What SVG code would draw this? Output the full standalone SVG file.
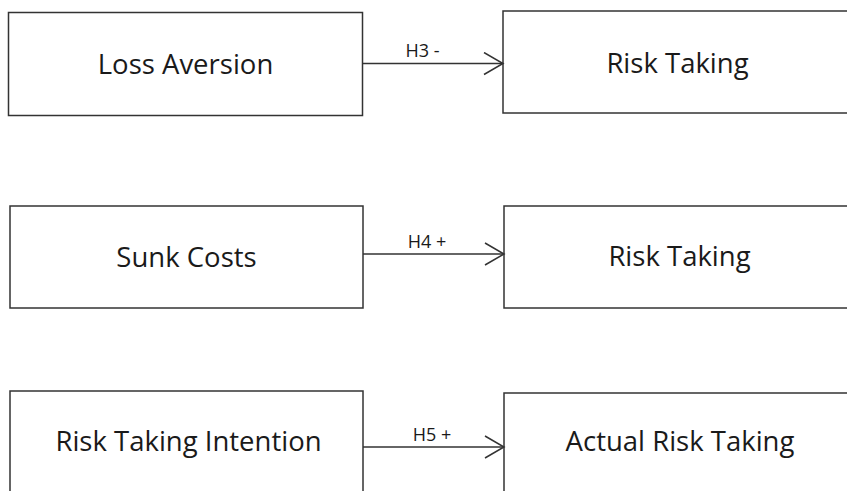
<svg xmlns="http://www.w3.org/2000/svg" width="847" height="491" viewBox="0 0 847 491">
<defs>
<style>
.box{fill:#fff;stroke:#333;stroke-width:1.5}
.lbl{font-family:"Open Sans","Liberation Sans",sans-serif;font-size:27.5px;fill:#1a1a1a;text-anchor:middle}
.hyp{font-family:"Open Sans","Liberation Sans",sans-serif;font-size:18px;fill:#1a1a1a;text-anchor:middle}
.edge{stroke:#333;stroke-width:1.5;fill:none}
</style>
<marker id="arr" markerUnits="userSpaceOnUse" markerWidth="24" markerHeight="26" refX="20" refY="12" orient="auto">
<path d="M1,1 L20,12 L1,23" fill="none" stroke="#333" stroke-width="1.5"/>
</marker>
</defs>
<rect width="847" height="491" fill="#fff"/>
<g id="loss-aversion">
<rect class="box" x="8.5" y="12.5" width="354" height="103"/>
<text class="lbl" x="185.5" y="74">Loss Aversion</text>
</g>
<g id="risk-taking-1">
<rect class="box" x="503" y="11" width="360" height="102"/>
<text class="lbl" x="677.5" y="73">Risk Taking</text>
</g>
<g id="sunk-costs">
<rect class="box" x="10" y="206" width="353" height="102"/>
<text class="lbl" x="186.5" y="267">Sunk Costs</text>
</g>
<g id="risk-taking-2">
<rect class="box" x="504" y="206" width="360" height="102"/>
<text class="lbl" x="679.5" y="266">Risk Taking</text>
</g>
<g id="risk-taking-intention">
<rect class="box" x="10" y="391" width="353" height="120"/>
<text class="lbl" x="188.5" y="451">Risk Taking Intention</text>
</g>
<g id="actual-risk-taking">
<rect class="box" x="504" y="393" width="360" height="120"/>
<text class="lbl" x="680" y="451">Actual Risk Taking</text>
</g>
<g id="connectors">
<line class="edge" x1="362.5" y1="63.5" x2="503" y2="63.5" marker-end="url(#arr)"/>
<text class="hyp" x="422.5" y="57">H3 -</text>
<line class="edge" x1="363" y1="254" x2="504" y2="254" marker-end="url(#arr)"/>
<text class="hyp" x="427" y="247.5">H4 +</text>
<line class="edge" x1="363" y1="447" x2="504" y2="447" marker-end="url(#arr)"/>
<text class="hyp" x="432" y="441">H5 +</text>
</g>
</svg>
